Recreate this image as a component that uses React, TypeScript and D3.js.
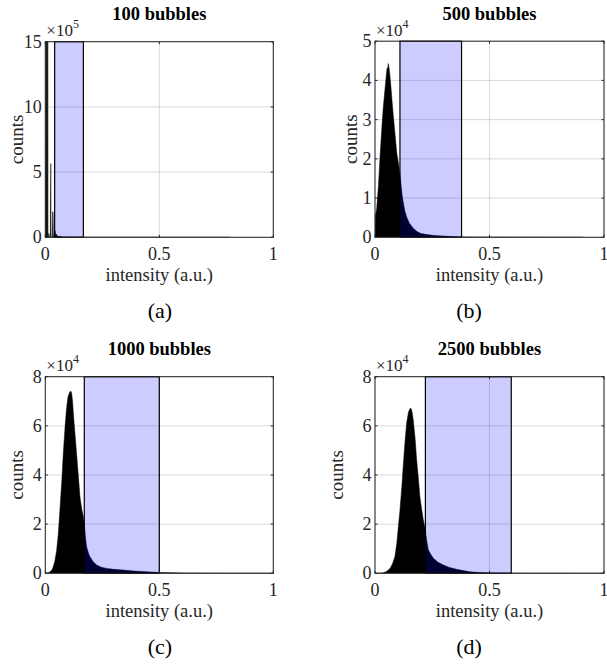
import React from 'react';
import * as d3 from 'd3';

// ---------- data ----------
const titles = ['100 bubbles', '500 bubbles', '1000 bubbles', '2500 bubbles'];
const panelLabels = ['(a)', '(b)', '(c)', '(d)'];
const exponents = ['5', '4', '4', '4'];
const yMaxes = [15, 5, 8, 8];
const yTicksA = [0, 5, 10, 15];
const yTicksB = [0, 1, 2, 3, 4, 5];
const yTicksC = [0, 2, 4, 6, 8];
const yTicksD = [0, 2, 4, 6, 8];
const xTicks = [0, 0.5, 1];
const xTickLabels = ['0', '0.5', '1'];

// intensity, counts (in units of 10^exponent)
const histA: [number, number][] = [
  [0, 0], [0.0015, 0], [0.002, 18], [0.0025, 0], [0.004, 0], [0.0045, 18], [0.005, 0],
  [0.0065, 0], [0.007, 18], [0.0075, 0], [0.009, 0], [0.0095, 18], [0.0115, 18], [0.012, 0],
  [0.014, 0], [0.016, 0.3], [0.018, 0], [0.022, 0], [0.024, 5.65], [0.0255, 0], [0.031, 0],
  [0.0325, 1.95], [0.034, 1.95], [0.0355, 0], [0.038, 0.1], [0.041, 0.3], [0.043, 0.5],
  [0.045, 0.15], [0.048, 0.25], [0.052, 0.08], [0.056, 0.12], [0.06, 0.05], [0.066, 0.08],
  [0.072, 0.03], [0.08, 0.02], [0.1, 0.01], [0.2, 0.005], [0.5, 0.003], [0.8, 0.002], [0.81, 0],
];
const histB: [number, number][] = [
  [0, 0], [0.001, 0.55], [0.007, 0.7], [0.015, 1.3], [0.022, 2.05], [0.03, 2.8], [0.036, 3.3],
  [0.044, 3.8], [0.05, 4.17], [0.053, 4.32], [0.055, 4.28], [0.058, 4.43], [0.062, 4.3],
  [0.068, 3.95], [0.073, 3.58], [0.08, 3.1], [0.087, 2.65], [0.095, 2.15], [0.102, 1.9],
  [0.108, 1.65], [0.112, 1.45], [0.118, 1.1], [0.124, 0.87], [0.13, 0.68], [0.138, 0.52],
  [0.15, 0.36], [0.167, 0.23], [0.185, 0.14], [0.2, 0.1], [0.226, 0.07], [0.26, 0.045],
  [0.3, 0.03], [0.35, 0.015], [0.4, 0.008], [0.5, 0.004], [0.7, 0.002], [0.9, 0.001], [0.91, 0],
];
const histC: [number, number][] = [
  [0, 0], [0.01, 0.01], [0.02, 0.05], [0.03, 0.15], [0.035, 0.27], [0.042, 0.5], [0.05, 0.95],
  [0.057, 1.6], [0.064, 2.57], [0.072, 3.7], [0.079, 4.88], [0.087, 6.0], [0.094, 6.78],
  [0.1, 7.2], [0.108, 7.39], [0.113, 7.4], [0.116, 7.3], [0.12, 6.95], [0.123, 6.5],
  [0.13, 5.7], [0.137, 4.88], [0.145, 3.95], [0.152, 3.11], [0.16, 2.6], [0.167, 2.3],
  [0.172, 1.9], [0.177, 1.4], [0.181, 1.08], [0.19, 0.8], [0.196, 0.67], [0.21, 0.47],
  [0.225, 0.34], [0.245, 0.25], [0.269, 0.2], [0.3, 0.16], [0.342, 0.13], [0.39, 0.09],
  [0.445, 0.06], [0.5, 0.03], [0.6, 0.012], [0.7, 0.005], [0.8, 0.002], [0.9, 0.001], [1, 0],
];
const histD: [number, number][] = [
  [0, 0], [0.02, 0.005], [0.036, 0.02], [0.05, 0.07], [0.066, 0.2], [0.077, 0.4], [0.087, 0.68],
  [0.095, 1.2], [0.102, 1.9], [0.109, 2.57], [0.117, 3.5], [0.124, 4.47], [0.131, 5.35],
  [0.138, 6.1], [0.146, 6.55], [0.153, 6.71], [0.158, 6.7], [0.162, 6.55], [0.167, 6.24],
  [0.175, 5.5], [0.182, 4.6], [0.19, 3.8], [0.196, 3.11], [0.204, 2.6], [0.211, 2.17],
  [0.22, 1.76], [0.226, 1.3], [0.233, 0.95], [0.244, 0.76], [0.255, 0.61], [0.275, 0.45],
  [0.298, 0.34], [0.325, 0.24], [0.357, 0.16], [0.39, 0.1], [0.415, 0.06], [0.45, 0.035],
  [0.474, 0.02], [0.52, 0.01], [0.6, 0.004], [0.75, 0.001], [0.9, 0], [1, 0],
];

// selected intensity windows (shaded band)
const windowA = [0.041, 0.167];
const windowB = [0.109, 0.378];
const windowC = [0.171, 0.5];
const windowD = [0.22, 0.595];

const yTicksAll = [yTicksA, yTicksB, yTicksC, yTicksD];
const histAll = [histA, histB, histC, histD];
const windowAll = [windowA, windowB, windowC, windowD];

// ---------- layout ----------
const W = 607;
const H = 668;
const layout = [
  { left: 45.3, top: 41.7, w: 228, h: 195.6, ylabX: 22.7, labX: 160 },
  { left: 375, top: 41.2, w: 229, h: 196.1, ylabX: 357.3, labX: 469 },
  { left: 45.3, top: 376.7, w: 228, h: 196.6, ylabX: 23.3, labX: 160 },
  { left: 375, top: 376.7, w: 229, h: 196.6, ylabX: 343.3, labX: 469 },
];
const FONT = '"Liberation Serif", "Times New Roman", serif';
const AXC = '#262626';

function Panel({ i }: { i: number }) {
  const L = layout[i];
  const x = d3.scaleLinear().domain([0, 1]).range([L.left, L.left + L.w]);
  const y = d3.scaleLinear().domain([0, yMaxes[i]]).range([L.top + L.h, L.top]);
  const area = d3
    .area<[number, number]>()
    .x((d) => x(d[0]))
    .y0(y(0))
    .y1((d) => y(d[1]));
  const clipId = `clip${i}`;
  const win = windowAll[i];
  const tk = 2.5;
  const bottom = L.top + L.h;
  const right = L.left + L.w;
  return (
    <g>
      <defs>
        <clipPath id={clipId}>
          <rect x={L.left} y={L.top} width={L.w} height={L.h} />
        </clipPath>
      </defs>
      {/* grid */}
      <g stroke={AXC} strokeOpacity={0.17} strokeWidth={1}>
        {xTicks.map((t) => (
          <line key={'gx' + t} x1={x(t)} x2={x(t)} y1={L.top} y2={bottom} />
        ))}
        {yTicksAll[i].map((t) => (
          <line key={'gy' + t} x1={L.left} x2={right} y1={y(t)} y2={y(t)} />
        ))}
      </g>
      {/* histogram */}
      <g clipPath={`url(#${clipId})`}>
        <path d={area(histAll[i]) || ''} fill="#000" stroke="#000" strokeWidth={0.5} />
      </g>
      {/* window patch */}
      <rect
        x={x(win[0])}
        y={L.top}
        width={x(win[1]) - x(win[0])}
        height={L.h}
        fill="rgb(0,0,255)"
        fillOpacity={0.2}
        stroke="#000"
        strokeWidth={1.2}
      />
      {/* box */}
      <rect x={L.left} y={L.top} width={L.w} height={L.h} fill="none" stroke={AXC} strokeWidth={1} />
      {/* ticks */}
      <g stroke={AXC} strokeWidth={1}>
        {xTicks.map((t) => (
          <g key={'tx' + t}>
            <line x1={x(t)} x2={x(t)} y1={bottom} y2={bottom - tk} />
            <line x1={x(t)} x2={x(t)} y1={L.top} y2={L.top + tk} />
          </g>
        ))}
        {yTicksAll[i].map((t) => (
          <g key={'ty' + t}>
            <line x1={L.left} x2={L.left + tk} y1={y(t)} y2={y(t)} />
            <line x1={right} x2={right - tk} y1={y(t)} y2={y(t)} />
          </g>
        ))}
      </g>
      {/* tick labels */}
      <g fontFamily={FONT} fontSize={18} fill={AXC}>
        {xTicks.map((t, k) => (
          <text key={'lx' + t} x={x(t)} y={bottom + 23} textAnchor="middle">
            {xTickLabels[k]}
          </text>
        ))}
        {yTicksAll[i].map((t) => (
          <text key={'ly' + t} x={L.left - 3.5} y={y(t) + 6} textAnchor="end">
            {String(t)}
          </text>
        ))}
      </g>
      {/* exponent */}
      <text x={L.left + 1} y={L.top - 5.5} fontFamily={FONT} fontSize={17} fill={AXC}>
        ×10
        <tspan fontSize={12} dy={-8}>
          {exponents[i]}
        </tspan>
      </text>
      {/* title */}
      <text
        x={(L.left + right) / 2}
        y={L.top - 21.5}
        textAnchor="middle"
        fontFamily={FONT}
        fontWeight="bold"
        fontSize={18.5}
        fill="#000"
      >
        {titles[i]}
      </text>
      {/* axis labels */}
      <text
        x={(L.left + right) / 2}
        y={bottom + 44}
        textAnchor="middle"
        fontFamily={FONT}
        fontSize={18.5}
        fill={AXC}
      >
        intensity (a.u.)
      </text>
      <text
        transform={`translate(${L.ylabX},${L.top + L.h / 2}) rotate(-90)`}
        textAnchor="middle"
        fontFamily={FONT}
        fontSize={19}
        fill={AXC}
      >
        counts
      </text>
      {/* panel label */}
      <text x={L.labX} y={bottom + 81} textAnchor="middle" fontFamily={FONT} fontSize={22} fill="#000">
        {panelLabels[i]}
      </text>
    </g>
  );
}

export default function App() {
  return (
    <svg
      width={W}
      height={H}
      viewBox={`0 0 ${W} ${H}`}
      style={{ position: 'absolute', left: 0, top: 0, background: '#fff' }}
    >
      <rect x={0} y={0} width={W} height={H} fill="#fff" />
      {[0, 1, 2, 3].map((i) => (
        <Panel key={i} i={i} />
      ))}
    </svg>
  );
}
